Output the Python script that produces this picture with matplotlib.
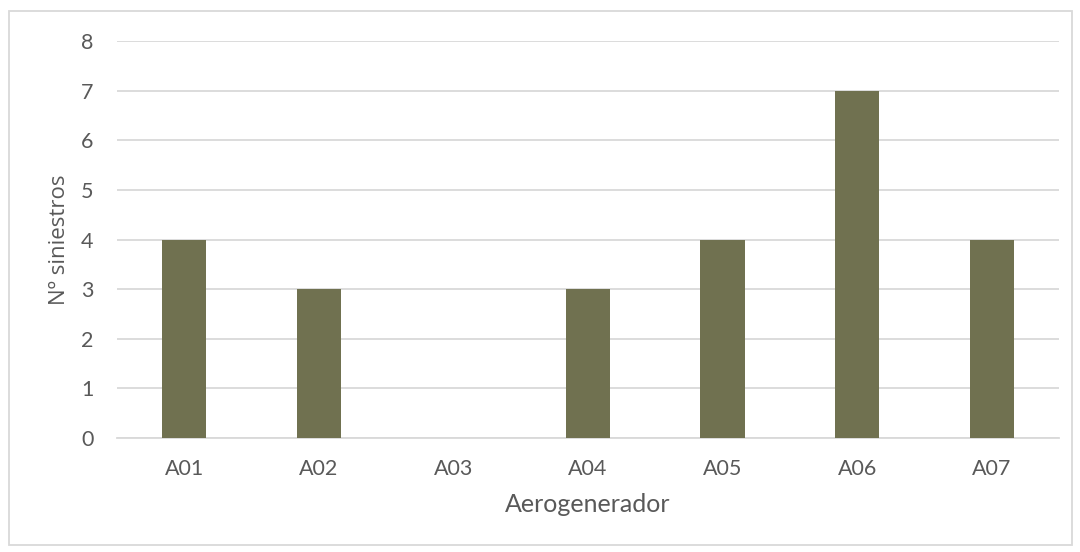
import matplotlib
matplotlib.use("Agg")
import matplotlib.pyplot as plt
from matplotlib.patches import Rectangle

categories = ["A01", "A02", "A03", "A04", "A05", "A06", "A07"]
siniestros = [4, 3, 0, 3, 4, 7, 4]
y_ticks = [0, 1, 2, 3, 4, 5, 6, 7, 8]

plt.rcParams["font.family"] = ["Lato", "DejaVu Sans"]
text_color = "#595959"
grid_color = "#D9D9D9"
bar_color = "#707150"

fig = plt.figure(figsize=(10.8, 5.52), dpi=100)
ax = fig.add_axes([0.1083, 0.2065, 0.8723, 0.7192])

x = range(len(categories))
ax.bar(x, siniestros, width=0.33, color=bar_color, zorder=3)

ax.set_xlim(-0.5, len(categories) - 0.5)
ax.set_ylim(0, 8)
ax.set_yticks(y_ticks)
ax.set_xticks(list(x))
ax.set_xticklabels(categories)

ax.grid(axis="y", color=grid_color, linewidth=1.3, zorder=0)
for s in ["top", "right", "left"]:
    ax.spines[s].set_visible(False)
ax.spines["bottom"].set_color(grid_color)
ax.spines["bottom"].set_linewidth(1.3)
ax.tick_params(axis="both", length=0, labelsize=15.5, colors=text_color)
ax.tick_params(axis="y", pad=17)
ax.tick_params(axis="x", pad=15)

ax.set_xlabel("Aerogenerador", fontsize=18, color=text_color, labelpad=10)
ax.set_ylabel("Nº siniestros", fontsize=16, color=text_color, labelpad=8,
              family=["Open Sans", "DejaVu Sans"])

fig.patches.append(Rectangle((9 / 1080, 1 - 545 / 552), 1063 / 1080, 534 / 552,
                             transform=fig.transFigure, fill=False,
                             edgecolor="#D9D9D9", linewidth=1.3))

fig.savefig("out.png", dpi=100, facecolor="white")
